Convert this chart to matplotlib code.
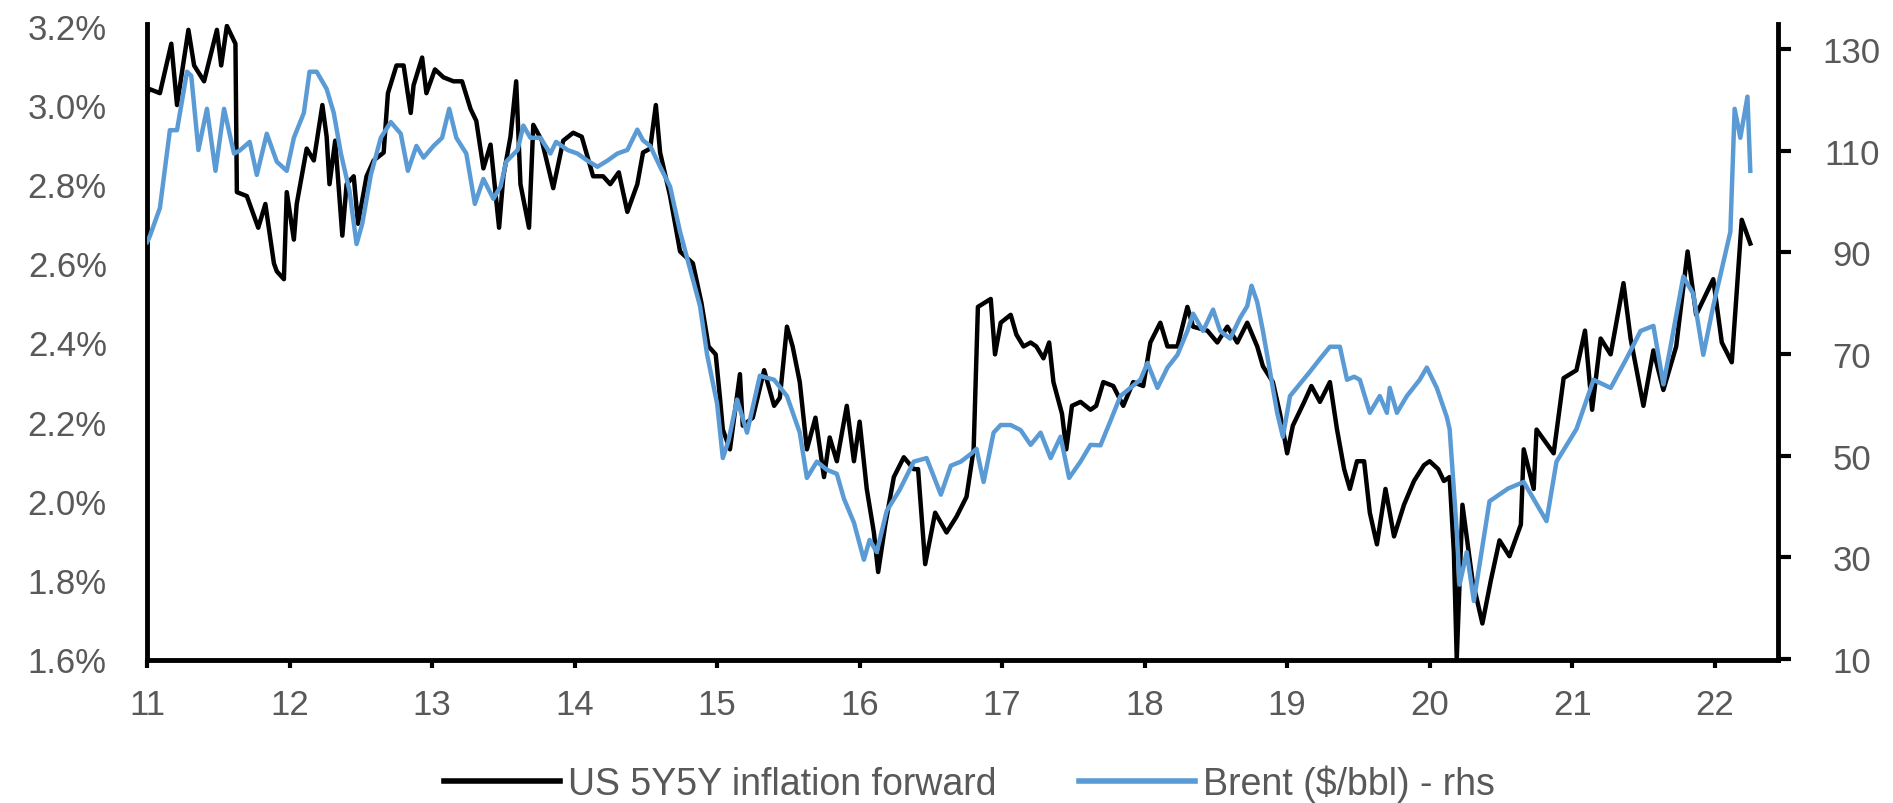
import numpy as np
import matplotlib
matplotlib.use('Agg')
import matplotlib.pyplot as plt
from matplotlib.lines import Line2D

# US 5Y5Y inflation forward (%): (year, value)
fwd_points = [
    (2011.00, 3.03), (2011.02, 3.04), (2011.09, 3.03), (2011.17, 3.155), (2011.21, 3.00),
    (2011.29, 3.19), (2011.33, 3.10), (2011.40, 3.06), (2011.49, 3.19), (2011.52, 3.10),
    (2011.56, 3.20), (2011.62, 3.155), (2011.63, 2.78), (2011.70, 2.77), (2011.78, 2.69),
    (2011.83, 2.75), (2011.89, 2.60), (2011.91, 2.58), (2011.96, 2.56), (2011.98, 2.78),
    (2012.03, 2.66), (2012.05, 2.75), (2012.12, 2.89), (2012.17, 2.86), (2012.23, 3.00),
    (2012.26, 2.92), (2012.28, 2.80), (2012.32, 2.91), (2012.37, 2.67), (2012.40, 2.80),
    (2012.45, 2.82), (2012.48, 2.70), (2012.54, 2.82), (2012.59, 2.86), (2012.66, 2.88),
    (2012.69, 3.03), (2012.75, 3.10), (2012.80, 3.10), (2012.85, 2.98), (2012.87, 3.05),
    (2012.93, 3.12), (2012.96, 3.03), (2013.02, 3.09), (2013.08, 3.07), (2013.15, 3.06),
    (2013.21, 3.06), (2013.27, 2.99), (2013.31, 2.96), (2013.36, 2.84), (2013.41, 2.90),
    (2013.47, 2.69), (2013.50, 2.82), (2013.55, 2.92), (2013.59, 3.06), (2013.62, 2.80),
    (2013.68, 2.69), (2013.71, 2.95), (2013.77, 2.91), (2013.85, 2.79), (2013.92, 2.91),
    (2013.99, 2.93), (2014.05, 2.92), (2014.09, 2.87), (2014.13, 2.82), (2014.20, 2.82),
    (2014.25, 2.80), (2014.31, 2.83), (2014.37, 2.73), (2014.44, 2.80), (2014.48, 2.88),
    (2014.53, 2.89), (2014.57, 3.00), (2014.60, 2.88), (2014.67, 2.77), (2014.74, 2.63),
    (2014.83, 2.60), (2014.89, 2.50), (2014.94, 2.39), (2014.99, 2.37), (2015.02, 2.26),
    (2015.04, 2.18), (2015.09, 2.13), (2015.16, 2.32), (2015.18, 2.19), (2015.25, 2.21),
    (2015.33, 2.33), (2015.40, 2.24), (2015.44, 2.26), (2015.49, 2.44), (2015.53, 2.39),
    (2015.58, 2.30), (2015.63, 2.13), (2015.69, 2.21), (2015.75, 2.06), (2015.79, 2.16),
    (2015.84, 2.10), (2015.91, 2.24), (2015.96, 2.10), (2016.00, 2.20), (2016.05, 2.03),
    (2016.10, 1.92), (2016.13, 1.82), (2016.18, 1.94), (2016.24, 2.06), (2016.31, 2.11),
    (2016.38, 2.08), (2016.41, 2.08), (2016.46, 1.84), (2016.53, 1.97), (2016.61, 1.92),
    (2016.68, 1.96), (2016.75, 2.01), (2016.80, 2.13), (2016.83, 2.49), (2016.92, 2.51),
    (2016.95, 2.37), (2016.99, 2.45), (2017.06, 2.47), (2017.10, 2.42), (2017.15, 2.39),
    (2017.20, 2.40), (2017.24, 2.39), (2017.29, 2.36), (2017.33, 2.40), (2017.36, 2.30),
    (2017.42, 2.22), (2017.45, 2.13), (2017.49, 2.24), (2017.55, 2.25), (2017.62, 2.23),
    (2017.66, 2.24), (2017.71, 2.30), (2017.78, 2.29), (2017.85, 2.24), (2017.92, 2.30),
    (2017.99, 2.29), (2018.04, 2.40), (2018.11, 2.45), (2018.16, 2.39), (2018.23, 2.39),
    (2018.30, 2.49), (2018.34, 2.44), (2018.44, 2.43), (2018.51, 2.40), (2018.58, 2.44),
    (2018.65, 2.40), (2018.72, 2.45), (2018.79, 2.39), (2018.83, 2.34), (2018.90, 2.30),
    (2018.95, 2.22), (2019.00, 2.12), (2019.04, 2.19), (2019.12, 2.25), (2019.17, 2.29),
    (2019.23, 2.25), (2019.30, 2.30), (2019.35, 2.18), (2019.40, 2.08), (2019.44, 2.03),
    (2019.49, 2.10), (2019.54, 2.10), (2019.58, 1.97), (2019.63, 1.89), (2019.69, 2.03),
    (2019.75, 1.91), (2019.82, 1.99), (2019.89, 2.05), (2019.96, 2.09), (2020.00, 2.10),
    (2020.06, 2.08), (2020.10, 2.05), (2020.14, 2.06), (2020.17, 1.87), (2020.19, 1.60),
    (2020.23, 1.99), (2020.30, 1.80), (2020.37, 1.69), (2020.43, 1.80), (2020.49, 1.90),
    (2020.56, 1.86), (2020.64, 1.94), (2020.66, 2.13), (2020.73, 2.03), (2020.75, 2.18),
    (2020.87, 2.12), (2020.94, 2.31), (2021.03, 2.33), (2021.09, 2.43), (2021.14, 2.23),
    (2021.20, 2.41), (2021.27, 2.37), (2021.36, 2.55), (2021.41, 2.41), (2021.50, 2.24),
    (2021.57, 2.38), (2021.64, 2.28), (2021.73, 2.39), (2021.81, 2.63), (2021.87, 2.47),
    (2021.99, 2.56), (2022.05, 2.40), (2022.12, 2.35), (2022.19, 2.71), (2022.25, 2.65),
]

# Brent ($/bbl), right axis: (year, value)
brent_points = [
    (2011.00, 92.0), (2011.02, 93.2), (2011.09, 98.7), (2011.16, 114.0), (2011.21, 114.0),
    (2011.28, 125.5), (2011.31, 124.7), (2011.36, 110.1), (2011.42, 118.2), (2011.48, 106.0),
    (2011.54, 118.2), (2011.61, 109.4), (2011.65, 110.0), (2011.72, 111.7), (2011.77, 105.2),
    (2011.84, 113.3), (2011.91, 107.8), (2011.98, 106.0), (2012.03, 112.5), (2012.10, 117.4),
    (2012.14, 125.5), (2012.19, 125.5), (2012.26, 122.1), (2012.31, 117.4), (2012.36, 109.4),
    (2012.42, 102.1), (2012.47, 91.6), (2012.51, 95.6), (2012.57, 105.2), (2012.64, 112.5),
    (2012.71, 115.6), (2012.78, 113.3), (2012.83, 106.0), (2012.89, 110.9), (2012.94, 108.6),
    (2013.01, 110.9), (2013.07, 112.5), (2013.12, 118.2), (2013.17, 112.5), (2013.24, 109.4),
    (2013.30, 99.5), (2013.36, 104.4), (2013.43, 100.5), (2013.48, 102.9), (2013.52, 107.8),
    (2013.60, 110.1), (2013.64, 114.9), (2013.69, 112.5), (2013.76, 112.5), (2013.83, 109.4),
    (2013.87, 111.7), (2013.95, 110.1), (2014.02, 109.4), (2014.09, 108.0), (2014.16, 106.8),
    (2014.23, 108.0), (2014.30, 109.4), (2014.37, 110.1), (2014.44, 114.1), (2014.48, 112.0),
    (2014.53, 110.9), (2014.60, 106.8), (2014.67, 102.9), (2014.74, 94.0), (2014.81, 86.7),
    (2014.88, 79.4), (2014.93, 69.8), (2015.00, 60.2), (2015.04, 49.5), (2015.08, 52.9),
    (2015.14, 61.0), (2015.21, 54.5), (2015.30, 65.7), (2015.40, 64.9), (2015.49, 61.7),
    (2015.58, 54.5), (2015.63, 45.6), (2015.70, 48.8), (2015.77, 47.2), (2015.84, 46.4),
    (2015.89, 41.5), (2015.96, 36.8), (2016.03, 29.5), (2016.07, 33.4), (2016.12, 31.0),
    (2016.19, 39.1), (2016.28, 43.2), (2016.38, 48.8), (2016.47, 49.5), (2016.57, 42.3),
    (2016.64, 48.0), (2016.71, 48.8), (2016.78, 50.3), (2016.82, 51.3), (2016.87, 44.8),
    (2016.94, 54.5), (2016.99, 56.0), (2017.06, 56.0), (2017.13, 55.0), (2017.20, 52.1),
    (2017.27, 54.5), (2017.34, 49.5), (2017.41, 53.7), (2017.47, 45.6), (2017.55, 48.8),
    (2017.62, 52.1), (2017.69, 52.0), (2017.76, 56.8), (2017.83, 61.7), (2017.90, 63.3),
    (2017.97, 64.9), (2018.02, 68.2), (2018.09, 63.3), (2018.16, 67.3), (2018.23, 69.8),
    (2018.30, 74.5), (2018.34, 77.9), (2018.41, 74.5), (2018.48, 78.7), (2018.53, 74.5),
    (2018.60, 73.0), (2018.67, 77.1), (2018.72, 79.4), (2018.75, 83.4), (2018.79, 80.2),
    (2018.83, 74.5), (2018.88, 66.5), (2018.93, 58.4), (2018.97, 53.7), (2019.02, 61.7),
    (2019.09, 64.1), (2019.16, 66.5), (2019.23, 69.0), (2019.30, 71.4), (2019.37, 71.4),
    (2019.42, 64.9), (2019.47, 65.5), (2019.51, 64.9), (2019.58, 58.4), (2019.65, 61.7),
    (2019.70, 58.4), (2019.72, 63.3), (2019.77, 58.4), (2019.84, 61.7), (2019.93, 64.9),
    (2019.98, 67.3), (2020.05, 63.3), (2020.12, 57.6), (2020.14, 55.2), (2020.19, 35.2),
    (2020.21, 24.6), (2020.26, 31.0), (2020.31, 21.4), (2020.42, 41.0), (2020.55, 43.5),
    (2020.66, 44.8), (2020.82, 37.1), (2020.89, 48.8), (2021.03, 55.2), (2021.15, 64.9),
    (2021.27, 63.3), (2021.38, 69.0), (2021.48, 74.5), (2021.57, 75.5), (2021.64, 64.0),
    (2021.69, 71.4), (2021.78, 85.2), (2021.85, 81.8), (2021.92, 69.8), (2021.99, 79.4),
    (2022.11, 94.0), (2022.14, 118.2), (2022.18, 112.5), (2022.23, 120.6), (2022.25, 106.0),
]

year_ticks = list(range(2011, 2023))
year_labels = [str(y)[2:] for y in year_ticks]
left_ticks = [1.6, 1.8, 2.0, 2.2, 2.4, 2.6, 2.8, 3.0, 3.2]
left_labels = [f'{v:.1f}%' for v in left_ticks]
right_ticks = [10, 30, 50, 70, 90, 110, 130]
right_labels = [str(v) for v in right_ticks]

fwd_t, fwd_v = np.array(fwd_points).T
brent_t, brent_v = np.array(brent_points).T

plt.rcParams['font.family'] = ['Liberation Sans', 'DejaVu Sans']
grey = '#595959'
blue = '#5B9BD5'

fig = plt.figure(figsize=(18.93, 8.04), dpi=100)
ax = fig.add_axes([0.0777, 0.178, 0.8616, 0.791])
ax2 = ax.twinx()

ax.plot(fwd_t, fwd_v, color='black', lw=3.2)
ax2.plot(brent_t, brent_v, color=blue, lw=3.2)

ax.set_xlim(2011.0, 2022.445)
ax.set_ylim(1.598, 3.205)
ax2.set_ylim(9.8, 134.9)

# axes styling: thick black spines, no top
for a in (ax, ax2):
    a.spines['top'].set_visible(False)
    for s in a.spines.values():
        s.set_linewidth(3.5)
        s.set_color('black')
ax.spines['right'].set_visible(False)
ax2.spines['left'].set_visible(False)
ax2.spines['bottom'].set_visible(False)

ax.set_xticks(year_ticks)
ax.set_xticklabels(year_labels)
ax.set_yticks(left_ticks)
ax.set_yticklabels(left_labels)
ax2.set_yticks(right_ticks)
ax2.set_yticklabels(right_labels, ha='center')

ax.tick_params(axis='x', length=6, width=3, pad=14, labelsize=25, labelcolor=grey)
ax.tick_params(axis='y', length=0, pad=29, labelsize=25, labelcolor=grey)
ax2.tick_params(axis='y', length=9, width=3, pad=44, labelsize=25, labelcolor=grey)

# legend under the chart
handles = [Line2D([], [], color='black', lw=4),
           Line2D([], [], color=blue, lw=4)]
leg = fig.legend(handles, ['US 5Y5Y inflation forward', 'Brent ($/bbl) - rhs'],
                 loc='center', bbox_to_anchor=(0.512, 0.024), ncol=2, frameon=False,
                 fontsize=27, handlelength=3.1, handletextpad=0.2, columnspacing=2.2,
                 borderaxespad=0, borderpad=0)
for txt in leg.get_texts():
    txt.set_color(grey)

fig.savefig('out.png', dpi=100)
